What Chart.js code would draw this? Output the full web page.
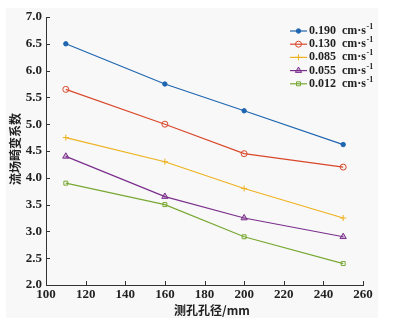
<!DOCTYPE html>
<html>
<head>
<meta charset="utf-8">
<script src="https://cdn.jsdelivr.net/npm/chart.js@4/dist/chart.umd.min.js"></script>
<style>
  html, body { margin: 0; padding: 0; background: #fff; }
  #wrap { width: 397px; height: 323px; }
</style>
</head>
<body>
<div id="wrap"><canvas id="c" width="397" height="323"></canvas></div>
<script>
// hole diameters (mm)
const holeSizes = [110, 160, 200, 250];
const seriesNames = ['0.190', '0.130', '0.085', '0.055', '0.012'];
const unitText = 'cm\u00b7s';
const unitExp = '-1';
const v190 = [6.5, 5.75, 5.25, 4.62];
const v130 = [5.65, 5.0, 4.45, 4.2];
const v085 = [4.75, 4.3, 3.8, 3.25];
const v055 = [4.4, 3.65, 3.25, 2.9];
const v012 = [3.9, 3.5, 2.9, 2.4];
const xTicks = [100, 120, 140, 160, 180, 200, 220, 240, 260];
const yTicks = [2.0, 2.5, 3.0, 3.5, 4.0, 4.5, 5.0, 5.5, 6.0, 6.5, 7.0];
const xTitle = '测孔孔径/mm';
const yTitle = '流场畸变系数';

const colors = ['#1f66b0', '#d9482b', '#eeb21f', '#7a2f8c', '#78a832'];
const markers = ['circle', 'circle', 'cross', 'triangle', 'rect'];
const fills = ['#1f66b0', 'rgba(0,0,0,0)', '#eeb21f', 'rgba(122,47,140,0.35)', 'rgba(0,0,0,0)'];
const radii = [2.2, 3, 3, 3.6, 2.8];
const allValues = [v190, v130, v085, v055, v012];

const datasets = allValues.map((vals, i) => ({
  label: seriesNames[i] + ' ' + unitText + '^' + unitExp,
  data: vals.map((v, j) => ({ x: holeSizes[j], y: v })),
  borderColor: colors[i],
  backgroundColor: fills[i],
  borderWidth: 1.2,
  pointStyle: markers[i],
  pointRadius: radii[i],
  pointBorderWidth: 1,
  pointBorderColor: colors[i],
  pointBackgroundColor: fills[i],
  tension: 0
}));

const tickFont = { family: 'Liberation Serif', size: 13, weight: 'bold' };

// background, inward tick marks, axis titles, legend
const extras = {
  id: 'extras',
  beforeDraw(chart) {
    const ctx = chart.ctx;
    ctx.save();
    ctx.fillStyle = '#ffffff';
    ctx.fillRect(0, 0, chart.width, chart.height);
    ctx.fillStyle = '#f8f8f8';
    ctx.fillRect(6, 8, 372, 310);
    ctx.restore();
  },
  afterDraw(chart) {
    const ctx = chart.ctx;
    const a = chart.chartArea;
    const xs = chart.scales.x, ys = chart.scales.y;
    ctx.save();
    ctx.strokeStyle = '#333';
    ctx.lineWidth = 1;
    ctx.beginPath();
    xTicks.forEach(t => {
      const px = Math.round(xs.getPixelForValue(t)) + 0.5;
      ctx.moveTo(px, a.bottom);
      ctx.lineTo(px, a.bottom - 4);
    });
    yTicks.forEach(t => {
      const py = Math.round(ys.getPixelForValue(t)) + 0.5;
      ctx.moveTo(a.left, py);
      ctx.lineTo(a.left + 4, py);
    });
    ctx.stroke();

    // axis titles
    ctx.fillStyle = '#222';
    ctx.textAlign = 'center';
    ctx.textBaseline = 'middle';
    ctx.font = 'bold 12px "Noto Sans CJK SC"';
    ctx.fillText(xTitle, 212, 310);
    ctx.save();
    ctx.translate(15, 149);
    ctx.rotate(-Math.PI / 2);
    ctx.fillText(yTitle, 0, 0);
    ctx.restore();

    // legend
    const lx = 290, ly = 31, step = 13.2;
    ctx.textAlign = 'left';
    chart.data.datasets.forEach((ds, i) => {
      const y = ly + i * step;
      ctx.strokeStyle = ds.borderColor;
      ctx.lineWidth = 1.2;
      ctx.beginPath();
      ctx.moveTo(lx, y);
      ctx.lineTo(lx + 17, y);
      ctx.stroke();
      ctx.fillStyle = ds.pointBackgroundColor;
      ctx.strokeStyle = ds.pointBorderColor;
      ctx.lineWidth = 1;
      Chart.helpers.drawPoint(ctx, {
        pointStyle: ds.pointStyle,
        radius: ds.pointRadius,
        borderWidth: 1
      }, lx + 8.5, y);
      ctx.fillStyle = '#222';
      ctx.font = 'bold 12px "Liberation Serif"';
      const main = seriesNames[i] + '  ' + unitText;
      ctx.fillText(main, lx + 19, y);
      const w = ctx.measureText(main).width;
      ctx.font = 'bold 8px "Liberation Serif"';
      ctx.fillText(unitExp, lx + 19 + w + 0.5, y - 4);
    });
    ctx.restore();
  }
};

new Chart(document.getElementById('c'), {
  type: 'line',
  data: { datasets },
  options: {
    responsive: false,
    animation: false,
    layout: { padding: { left: 0, right: 34, top: 17, bottom: 0 } },
    plugins: { legend: { display: false }, tooltip: { enabled: false } },
    scales: {
      x: {
        type: 'linear',
        min: 100, max: 260,
        afterBuildTicks: s => { s.ticks = xTicks.map(v => ({ value: v })); },
        afterFit: s => { s.height = 38; },
        grid: { display: true, drawOnChartArea: false, drawTicks: false },
        border: { display: true, color: '#333', width: 1 },
        ticks: { color: '#222', font: tickFont, padding: 2, maxRotation: 0 }
      },
      y: {
        type: 'linear',
        min: 2, max: 7,
        afterBuildTicks: s => { s.ticks = yTicks.map(v => ({ value: v })); },
        afterFit: s => { s.width = 46; },
        grid: { display: true, drawOnChartArea: false, drawTicks: false },
        border: { display: true, color: '#333', width: 1 },
        ticks: { color: '#222', font: tickFont, padding: 4, callback: v => v.toFixed(1) }
      }
    }
  },
  plugins: [extras]
});
</script>
</body>
</html>
